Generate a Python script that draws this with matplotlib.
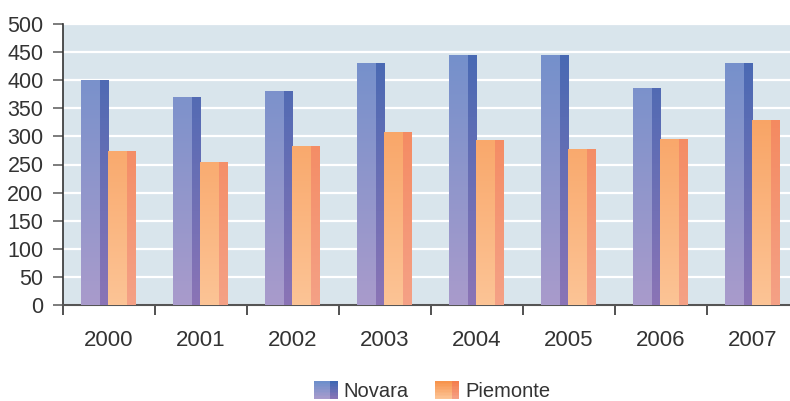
import numpy as np
import matplotlib
matplotlib.use("Agg")
import matplotlib.pyplot as plt
from matplotlib.colors import LinearSegmentedColormap, to_rgb
from matplotlib.legend_handler import HandlerBase
from matplotlib.patches import Rectangle

years = ["2000", "2001", "2002", "2003", "2004", "2005", "2006", "2007"]
novara = [400, 370, 381, 430, 445, 445, 386, 430]
piemonte = [274, 254, 283, 308, 294, 278, 295, 329]
series_names = ["Novara", "Piemonte"]
y_ticks = [0, 50, 100, 150, 200, 250, 300, 350, 400, 450, 500]

plt.rcParams['font.family'] = ['Liberation Sans', 'DejaVu Sans']

# colors (top, bottom) for front and side faces
styles = {
    "Novara": {"front": ("#6e8fcb", "#a99bcc"), "side": ("#4068b3", "#8b74b6")},
    "Piemonte": {"front": ("#f7944d", "#fcc496"), "side": ("#f47e4d", "#f5a186")},
}

W, H = 790, 401
fig = plt.figure(figsize=(W / 100, H / 100), dpi=100)
ax = fig.add_axes([63 / W, 96 / H, 736 / W, 281 / H])
ax.set_facecolor("#d9e5ec")
ax.set_xlim(-0.5, len(years) - 0.5)
ax.set_ylim(0, 500)

x = np.arange(len(years))
front_w = 0.205
side_w = 0.087
offsets = {"Novara": -0.305, "Piemonte": -0.013}


def grad_fill(bar, top, bottom, ymax):
    x0 = bar.get_x()
    w = bar.get_width()
    cmap = LinearSegmentedColormap.from_list("g", [bottom, top])
    grad = np.linspace(0, 1, 256).reshape(-1, 1)
    im = ax.imshow(grad, cmap=cmap, origin="lower", aspect="auto",
                   extent=[x0, x0 + w, 0, ymax], zorder=3, interpolation="bilinear")
    im.set_clip_path(bar)


for name, vals in zip(series_names, [novara, piemonte]):
    st = styles[name]
    fronts = ax.bar(x + offsets[name], vals, width=front_w, align="edge",
                    color="none", linewidth=0, zorder=3)
    sides = ax.bar(x + offsets[name] + front_w, vals, width=side_w, align="edge",
                   color="none", linewidth=0, zorder=3)
    for b in fronts:
        grad_fill(b, st["front"][0], st["front"][1], 500)
    for b in sides:
        grad_fill(b, st["side"][0], st["side"][1], 500)

ax.set_xlim(-0.5, len(years) - 0.5)
ax.set_ylim(0, 500)

# grid
ax.set_yticks(y_ticks)
ax.yaxis.grid(True, color="white", linewidth=1.6, zorder=1)
ax.set_axisbelow(True)

# x ticks: boundaries as major ticks, labels at centers
ax.set_xticks(np.arange(-0.5, len(years) + 0.5, 1.0))
ax.set_xticklabels([])
ax.set_xticks(x, minor=True)
ax.set_xticklabels(years, minor=True)
ax.tick_params(axis="x", which="major", direction="out", length=7, width=1.2, color="#333333")
ax.tick_params(axis="x", which="minor", length=0, pad=18, labelsize=16, labelcolor="#333333")
ax.tick_params(axis="y", direction="out", length=7, width=1.2, color="#666666",
               pad=7, labelsize=15.5, labelcolor="#333333")

for s in ["top", "right"]:
    ax.spines[s].set_visible(False)
ax.spines["left"].set_color("#333333")
ax.spines["bottom"].set_color("#555555")
ax.spines["left"].set_linewidth(1.2)
ax.spines["bottom"].set_linewidth(1.5)


class GradHandler(HandlerBase):
    def __init__(self, st):
        super().__init__()
        self.st = st

    def create_artists(self, legend, orig_handle, xdescent, ydescent, width, height,
                       fontsize, trans):
        arts = []
        n = 12
        fw = width * 0.68
        for i in range(n):
            t = i / (n - 1)
            for (c_top, c_bot), x0, w in [(self.st["front"], 0, fw), (self.st["side"], fw, width - fw)]:
                c = np.array(to_rgb(c_bot)) * (1 - t) + np.array(to_rgb(c_top)) * t
                r = Rectangle((x0 - xdescent, -ydescent + height * i / n), w, height / n + 0.3,
                              facecolor=c, edgecolor="none", transform=trans)
                arts.append(r)
        return arts


handles = [Rectangle((0, 0), 1, 1) for _ in series_names]
fig.legend(handles, series_names, loc="center", bbox_to_anchor=(432 / W, 1 - 391 / H),
           ncol=2, frameon=False, fontsize=14.5, handlelength=1.2, handleheight=1.0,
           handletextpad=0.3, columnspacing=1.3, labelcolor="#333333",
           handler_map={handles[0]: GradHandler(styles["Novara"]),
                        handles[1]: GradHandler(styles["Piemonte"])})

fig.savefig("out.png", dpi=100)
